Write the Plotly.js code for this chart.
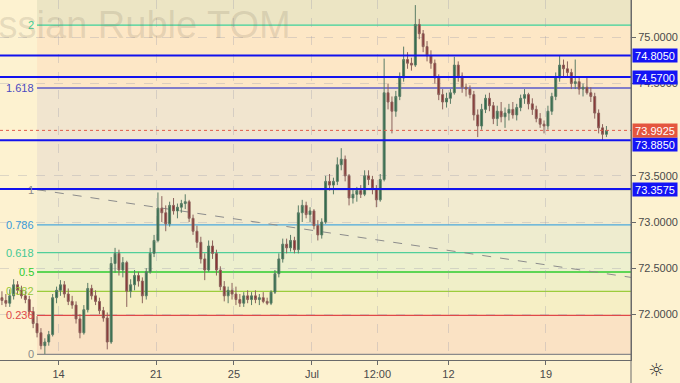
<!DOCTYPE html>
<html><head><meta charset="utf-8">
<script src="https://cdn.plot.ly/plotly-3.0.1.min.js"></script>
<style>html,body{margin:0;padding:0;background:#fdf2d0;}#chart{width:680px;height:383px;}</style>
</head><body><div id="chart"></div>
<script>
// ---- data ----
const perDay = 5;
const tickLabels = ['14','21','25','Jul','12:00','12','19'];
const tickDays = [3, 8, 12, 16, 19.35, 23, 28];
const yTickVals = [72.0, 72.5, 73.0, 73.5, 74.5, 75.0];

const openP = [72.18,72.15,72.12,72.20,72.32,72.26,72.20,72.16,72.03,71.90,
71.80,71.66,71.70,71.78,72.18,72.26,72.32,72.22,72.14,72.10,
71.95,71.80,72.05,72.28,72.20,72.14,72.04,71.96,71.70,72.55,
72.66,72.48,72.56,72.25,72.32,72.42,72.36,72.20,72.46,72.66,
72.80,73.15,73.10,72.98,73.18,73.12,73.16,73.20,73.22,73.04,
72.90,72.78,72.60,72.48,72.74,72.66,72.48,72.30,72.20,72.26,
72.22,72.16,72.12,72.20,72.16,72.20,72.16,72.18,72.14,72.12,
72.24,72.44,72.60,72.76,72.72,72.80,72.70,73.10,73.18,73.08,
73.12,72.96,72.86,73.00,73.44,73.40,73.44,73.62,73.68,73.50,
73.26,73.30,73.34,73.30,73.50,73.46,73.36,73.24,73.46,74.40,
74.30,74.20,74.36,74.56,74.76,74.72,74.70,75.14,75.04,74.90,
74.80,74.72,74.56,74.38,74.30,74.34,74.40,74.70,74.58,74.46,
74.44,74.38,74.16,74.04,74.22,74.34,74.26,74.12,74.20,74.14,
74.18,74.22,74.16,74.24,74.34,74.38,74.28,74.22,74.12,74.06,
74.04,74.20,74.36,74.56,74.70,74.66,74.62,74.50,74.52,74.44,
74.46,74.40,74.36,74.18,74.02,73.95];
const highP = [72.25,72.22,72.27,72.38,72.36,72.31,72.25,72.20,72.08,71.98,
71.85,71.74,71.82,72.22,72.30,72.37,72.36,72.28,72.20,72.14,
72.00,72.10,72.34,72.32,72.26,72.18,72.08,72.02,72.62,72.72,
72.70,72.62,72.58,72.38,72.48,72.46,72.40,72.50,72.72,72.86,
73.32,73.28,73.18,73.22,73.26,73.20,73.24,73.30,73.24,73.08,
72.96,72.84,72.66,72.80,72.80,72.70,72.52,72.36,72.30,72.34,
72.30,72.22,72.24,72.26,72.24,72.26,72.22,72.24,72.18,72.26,
72.48,72.66,72.82,72.82,72.86,72.84,73.18,73.24,73.22,73.16,
73.14,73.02,73.04,73.50,73.52,73.48,73.70,73.80,73.72,73.52,
73.36,73.38,73.40,73.56,73.56,73.50,73.40,73.52,74.77,74.50,
74.36,74.42,74.62,74.90,74.84,74.78,75.35,75.20,75.08,74.96,
74.86,74.76,74.60,74.44,74.40,74.44,74.79,74.74,74.62,74.50,
74.48,74.42,74.22,74.28,74.38,74.40,74.30,74.26,74.30,74.24,
74.28,74.30,74.28,74.38,74.44,74.40,74.34,74.26,74.18,74.10,
74.26,74.40,74.62,74.80,74.76,74.74,74.66,74.76,74.56,74.50,
74.56,74.46,74.40,74.22,74.06,74.04];
const lowP = [72.10,72.08,72.08,72.16,72.22,72.17,72.12,72.00,71.85,71.75,
71.62,71.57,71.66,71.76,72.12,72.20,72.18,72.10,72.06,71.90,
71.74,71.78,72.02,72.16,72.10,72.00,71.92,71.62,71.68,72.45,
72.42,72.40,72.08,72.18,72.26,72.30,72.12,72.16,72.44,72.62,
72.78,73.00,72.90,72.95,73.08,73.04,73.10,73.14,73.00,72.86,
72.72,72.55,72.37,72.46,72.60,72.42,72.26,72.14,72.12,72.16,
72.10,72.08,72.08,72.12,72.10,72.12,72.10,72.12,72.10,72.10,
72.22,72.40,72.56,72.66,72.68,72.66,72.66,73.00,73.04,73.00,
72.92,72.80,72.82,72.98,73.34,73.30,73.40,73.56,73.44,73.18,
73.20,73.22,73.26,73.28,73.40,73.30,73.16,73.22,73.44,74.22,
73.96,74.14,74.32,74.52,74.66,74.64,74.68,74.98,74.84,74.74,
74.66,74.50,74.32,74.22,74.24,74.28,74.38,74.52,74.40,74.36,
74.34,74.10,73.92,74.00,74.18,74.20,74.06,74.04,74.08,74.02,
74.10,74.12,74.10,74.20,74.28,74.22,74.16,74.08,74.02,73.96,
74.00,74.16,74.32,74.52,74.58,74.56,74.44,74.44,74.38,74.36,
74.38,74.30,74.12,73.96,73.88,73.92];
const closeP = [72.15,72.12,72.20,72.32,72.26,72.20,72.16,72.03,71.90,71.80,
71.66,71.70,71.78,72.18,72.26,72.32,72.22,72.14,72.10,71.95,
71.80,72.05,72.28,72.20,72.14,72.04,71.96,71.70,72.55,72.66,
72.48,72.56,72.25,72.32,72.42,72.36,72.20,72.46,72.66,72.80,
73.15,73.10,72.98,73.18,73.12,73.16,73.20,73.22,73.04,72.90,
72.78,72.60,72.48,72.74,72.66,72.48,72.30,72.20,72.26,72.22,
72.16,72.12,72.20,72.16,72.20,72.16,72.18,72.14,72.12,72.24,
72.44,72.60,72.76,72.72,72.80,72.70,73.10,73.18,73.08,73.12,
72.96,72.86,73.00,73.44,73.40,73.44,73.62,73.68,73.50,73.26,
73.30,73.34,73.30,73.50,73.46,73.36,73.24,73.46,74.40,74.30,
74.20,74.36,74.56,74.76,74.72,74.70,75.14,75.04,74.90,74.80,
74.72,74.56,74.38,74.30,74.34,74.40,74.70,74.58,74.46,74.44,
74.38,74.16,74.04,74.22,74.34,74.26,74.12,74.20,74.14,74.18,
74.22,74.16,74.24,74.34,74.38,74.28,74.22,74.12,74.06,74.04,
74.20,74.36,74.56,74.70,74.66,74.62,74.50,74.52,74.44,74.46,
74.40,74.36,74.18,74.02,73.95,73.99];

const fibLow = 71.567, fibHigh = 73.35;
const fibLevels = [0, 0.236, 0.382, 0.5, 0.618, 0.786, 1, 1.618, 2];
const fibLabels = ['0','0.236','0.382','0.5','0.618','0.786','1','1.618','2'];
const fibStartIdx = 9;
const hLevels = [74.8050, 74.5700, 73.8850, 73.3575];
const hLabelShift = [0, 0, -4, 0];
const lastPrice = 73.9925;
const trendStart = [9, 73.35], trendEnd = [161.3, 72.40];

// ---- styles ----
const FONT = 'Liberation Sans, Arial, sans-serif';
const fibLineColors = ['#8a8a8a','#e04848','#9ccc3c','#2ecc2e','#4fcf9a','#4ba9dc','#8a8a8a','#5a5ac8','#3cd29a'];
const fibLabelColors = ['#8a8a8a','#e04848','#96c83a','#2ecc2e','#44c894','#3a9ad9','#8a8a8a','#4a4ac0','#3cd29a'];
const fibBandColors = ['#fae2c4','#f6efc5','#f0efc8','#edf0cf','#eeeccf','#f2ebd0','#f1e5cf','#fde7c6'];
const aboveTopColor = '#ece5c4';

const xr = [-0.5, 161.3], yr = [71.505, 75.405];
const idx = openP.map((_, i) => i);
const fibPrice = l => fibLow + l * (fibHigh - fibLow);

const shapes = [];
const annotations = [];
for (let i = 0; i < fibLevels.length - 1; i++) {
  shapes.push({type:'rect', xref:'x', yref:'y', x0:fibStartIdx, x1:xr[1], y0:fibPrice(fibLevels[i]), y1:fibPrice(fibLevels[i+1]), fillcolor:fibBandColors[i], line:{width:0}, layer:'below'});
}
shapes.push({type:'rect', xref:'x', yref:'y', x0:fibStartIdx, x1:xr[1], y0:fibPrice(fibLevels[fibLevels.length-1]), y1:yr[1], fillcolor:aboveTopColor, line:{width:0}, layer:'below'});
fibLevels.forEach((l, i) => {
  shapes.push({type:'line', xref:'x', yref:'y', x0:fibStartIdx, x1:xr[1], y0:fibPrice(l), y1:fibPrice(l), line:{color:fibLineColors[i], width:1.3}, layer:'below'});
  annotations.push({xref:'x', yref:'y', x:fibStartIdx, y:fibPrice(l), xanchor:'right', yanchor:'middle', xshift:-1, text:fibLabels[i], showarrow:false, font:{family:FONT, size:11, color:fibLabelColors[i]}});
});
shapes.push({type:'line', xref:'x', yref:'y', x0:trendStart[0], y0:trendStart[1], x1:trendEnd[0], y1:trendEnd[1], line:{color:'#8c8c8c', width:1, dash:'dash'}, layer:'between'});
shapes.push({type:'line', xref:'paper', yref:'y', x0:0, x1:1, y0:lastPrice, y1:lastPrice, line:{color:'#e05a4a', width:1, dash:'dot'}, layer:'above'});
hLevels.forEach((v, i) => {
  shapes.push({type:'line', xref:'paper', yref:'y', x0:0, x1:1, y0:v, y1:v, line:{color:'#1212ee', width:2}, layer:'above'});
  annotations.push({xref:'paper', yref:'y', x:1, y:v, xanchor:'left', yanchor:'middle', xshift:1, yshift:hLabelShift[i], text:v.toFixed(4), showarrow:false, bgcolor:'#1414f5', borderpad:0, width:44, height:13, font:{family:FONT, size:11, color:'#ffffff'}});
});
annotations.push({xref:'paper', yref:'y', x:1, y:lastPrice, xanchor:'left', yanchor:'middle', xshift:1, yshift:0, text:lastPrice.toFixed(4), showarrow:false, bgcolor:'#e4563f', borderpad:0, width:44, height:13, font:{family:FONT, size:11, color:'#ffffff'}});
shapes.push({type:'line', xref:'paper', yref:'paper', x0:1, x1:1, y0:-0.07, y1:1, line:{color:'#6a6a6a', width:1}, layer:'above'});
annotations.push({xref:'paper', yref:'paper', x:293/631, y:1-25/360, xanchor:'right', yanchor:'middle', text:'Russian Ruble TOM', showarrow:false, font:{family:'Liberation Sans, Arial', size:38, color:'rgba(110,100,80,0.17)'}});
annotations.push({xref:'paper', yref:'paper', x:656/631, y:-10/360, xanchor:'center', yanchor:'middle', text:'☼', showarrow:false, font:{family:'DejaVu Sans', size:18, color:'#333'}});

const trace = {
  type:'candlestick', x: idx, open: openP, high: highP, low: lowP, close: closeP,
  increasing:{line:{color:'#5a7c66', width:1}, fillcolor:'#2e6a47'},
  decreasing:{line:{color:'#8c625c', width:1}, fillcolor:'#8a2f2f'},
  whiskerwidth:0, hoverinfo:'none'
};

const layout = {
  width:680, height:383,
  margin:{l:0, r:49, t:0, b:23},
  paper_bgcolor:'#fdf2d0', plot_bgcolor:'#fdf2d0',
  showlegend:false,
  font:{family:FONT, size:11, color:'#4a4a4a'},
  xaxis:{range:xr, rangeslider:{visible:false}, tickmode:'array',
    tickvals: tickDays.map(d => d * perDay - 0.5), ticktext: tickLabels,
    showgrid:true, gridcolor:'rgba(150,150,170,0.3)', griddash:'dash', gridwidth:1,
    showline:true, linecolor:'#6a6a6a', ticks:'outside', ticklen:4, tickcolor:'#6a6a6a',
    zeroline:false, fixedrange:true, tickfont:{family:FONT, size:11, color:'#4a4a4a'}},
  yaxis:{range:yr, side:'right', tickmode:'array', tickvals:yTickVals, tickformat:'.4f',
    showgrid:true, gridcolor:'rgba(150,150,170,0.3)', griddash:'dash', gridwidth:1,
    showline:true, linecolor:'#6a6a6a', ticks:'outside', ticklen:4, tickcolor:'#6a6a6a',
    zeroline:false, fixedrange:true, tickfont:{family:FONT, size:11, color:'#4a4a4a'}},
  shapes, annotations
};
Plotly.newPlot('chart', [trace], layout, {displayModeBar:false, staticPlot:true});
</script></body></html>
